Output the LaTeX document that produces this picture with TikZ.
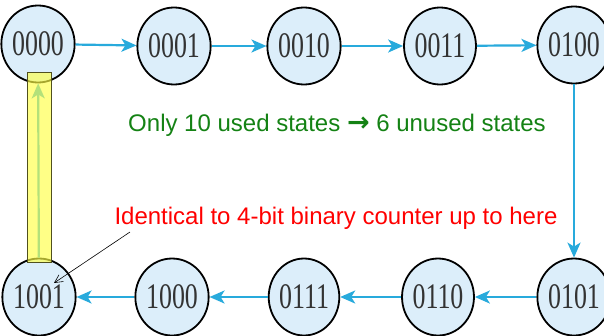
\documentclass[tikz,border=0pt]{standalone}
\usepackage{fontspec}
\setmainfont{Liberation Serif}
\newfontfamily\arialfont{Liberation Sans}
\newfontfamily\arrowfont{DejaVu Sans}
\usetikzlibrary{arrows.meta,shapes.geometric}
\definecolor{stateblue}{RGB}{220,238,250}
\definecolor{arrowblue}{RGB}{40,170,220}
\definecolor{textgreen}{RGB}{20,130,20}
\definecolor{hlyellow}{RGB}{255,255,70}
\definecolor{hledge}{RGB}{80,80,30}
\tikzset{
  state/.style={draw=black, line width=1.8pt, fill=stateblue, ellipse, minimum width=64pt, minimum height=77pt, inner sep=0pt,
    font=\fontsize{36}{36}\selectfont, text=black!80},
  flow/.style={draw=arrowblue, line width=2.2pt, -{Stealth[length=15pt,width=13pt,inset=4pt]}},
  note/.style={font=\arialfont\fontsize{24}{24}\selectfont, inner sep=0pt},
}
\newcommand{\stt}[1]{\scalebox{0.72}[1]{#1}}
\begin{document}
\begin{tikzpicture}[x=1pt,y=-1pt]
\useasboundingbox (0,0) rectangle (604,335);
\fill[white] (0,0) rectangle (604,335);
\node[state] (s0) at (38,44) {\stt{0000}};
\node[state] (s1) at (174,46) {\stt{0001}};
\node[state] (s2) at (304,46) {\stt{0010}};
\node[state] (s3) at (440,46) {\stt{0011}};
\node[state] (s4) at (574,45) {\stt{0100}};
\node[state] (s5) at (574,297) {\stt{0101}};
\node[state] (s6) at (438,297) {\stt{0110}};
\node[state] (s7) at (304,297) {\stt{0111}};
\node[state] (s8) at (172,297) {\stt{1000}};
\node[state] (s9) at (39,297) {\stt{1001}};
\draw[flow] (s0) -- (s1);
\draw[flow] (s1) -- (s2);
\draw[flow] (s2) -- (s3);
\draw[flow] (s3) -- (s4);
\draw[flow] (s4) -- (s5);
\draw[flow] (s5) -- (s6);
\draw[flow] (s6) -- (s7);
\draw[flow] (s7) -- (s8);
\draw[flow] (s8) -- (s9);
\draw[flow] (s9) -- (s0);
\node[draw=hledge, line width=0.8pt, fill=hlyellow, fill opacity=0.65, minimum width=24pt, minimum height=190pt, inner sep=0pt] (hl) at (39,167) {};
\node[note, text=textgreen] (used) at (337,125) {Only 10 used states {\arrowfont\bfseries\fontsize{27}{27}\selectfont →} 6 unused states};
\node[note, text=red] (ident) at (336,218) {Identical to 4-bit binary counter up to here};
\coordinate (tail) at (130,232);
\draw[black, line width=0.6pt, -{Straight Barb[length=8pt,width=8pt]}] (tail) -- (54,283);
\end{tikzpicture}
\end{document}
